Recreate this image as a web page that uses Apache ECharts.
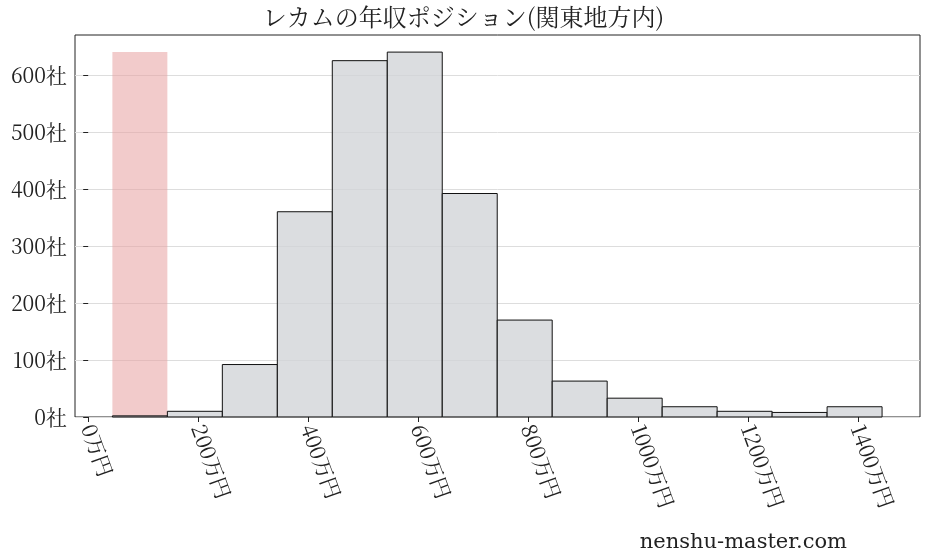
<!DOCTYPE html>
<html><head><meta charset="utf-8">
<script src="https://cdn.jsdelivr.net/npm/echarts@6/dist/echarts.min.js"></script>
<style>html,body{margin:0;padding:0;background:#fff}#c{width:927px;height:557px}</style>
</head><body><div id="c"></div>
<script>
const binStarts = [44,144,244,344,444,544,644,744,844,944,1044,1144,1244,1344];
const counts = [2,10,92,360,625,640,392,170,63,33,18,10,8,18];
const binWidth = 100;
const highlightStart = 44, highlightValue = 640;
const xTicks = [0,200,400,600,800,1000,1200,1400];
const yTicks = [0,100,200,300,400,500,600];
const F = '"Noto Serif CJK JP","Noto Sans CJK JP",serif';
const chart = echarts.init(document.getElementById('c'));
function rect(params, api, style){
  const x0 = api.value(0), x1 = x0 + binWidth, v = api.value(1);
  const p0 = api.coord([x0, 0]), p1 = api.coord([x1, v]);
  return {type:'rect', shape:{x:p0[0], y:p1[1], width:p1[0]-p0[0], height:p0[1]-p1[1]}, style};
}
chart.setOption({
  animation:false,
  title:{text:'レカムの年収ポジション(関東地方内)', left:'center', top:0, textStyle:{fontFamily:F, fontSize:24, fontWeight:'normal', color:'#222'}},
  graphic:[{type:'text', right:80, bottom:4, style:{text:'nenshu-master.com', font:'21px "DejaVu Serif",serif', fill:'#222'}}],
  grid:{left:75, right:7, top:35, bottom:140, show:true, borderColor:'#222', borderWidth:1},
  xAxis:{type:'value', min:-24, max:1513, interval:200,
    axisLine:{show:false}, splitLine:{show:false},
    axisTick:{show:true, customValues: xTicks, lineStyle:{color:'#222'}},
    axisLabel:{customValues: xTicks, rotate:-70, fontFamily:F, fontSize:21, color:'#222', formatter:v=>v+'万円', margin:8}},
  yAxis:{type:'value', min:0, max:670, interval:100,
    axisLine:{show:false}, splitLine:{lineStyle:{color:'#ddd'}},
    axisTick:{show:true, customValues: yTicks, lineStyle:{color:'#222'}},
    axisLabel:{customValues: yTicks, fontFamily:F, fontSize:21, color:'#222', formatter:v=>v+'社'}},
  series:[
    {type:'custom', data:[[highlightStart, highlightValue]], renderItem:(p,a)=>rect(p,a,{fill:'rgba(232,160,160,0.55)'}), z:1},
    {type:'custom', data:binStarts.map((b,i)=>[b,counts[i]]), renderItem:(p,a)=>rect(p,a,{fill:'rgba(210,212,216,0.8)', stroke:'#111', lineWidth:1}), z:2}
  ]
});
</script></body></html>
